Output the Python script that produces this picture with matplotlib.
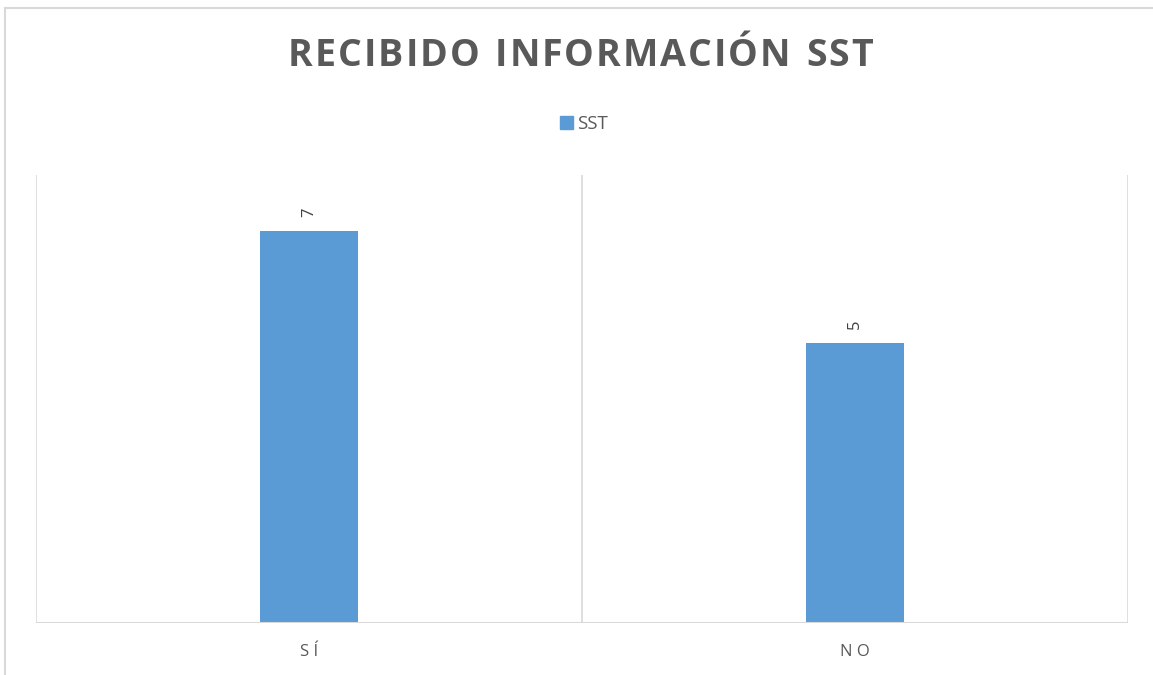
import matplotlib
matplotlib.use("Agg")
import matplotlib.pyplot as plt
from matplotlib.lines import Line2D
from matplotlib.patches import Rectangle

categories = ["SÍ", "NO"]
values = [7, 5]
series_name = "SST"
title = "RECIBIDO INFORMACIÓN SST"

BAR = "#5B9BD5"
GRID = "#D9D9D9"
TXT = "#595959"
FONT = ["Open Sans", "DejaVu Sans"]

W, H = 1153, 675
fig = plt.figure(figsize=(W / 100, H / 100), dpi=100)
ax = fig.add_axes([36 / W, 1 - 623 / H, (1128 - 36) / W, (623 - 175) / H])

x = list(range(len(categories)))
ax.bar(x, values, width=0.18, color=BAR, zorder=3)
ax.set_xlim(-0.5, len(categories) - 0.5)
ax.set_ylim(0, 8)
for b in [i - 0.5 for i in range(len(categories) + 1)]:
    ax.axvline(b, color=GRID, lw=1.2, zorder=1)
for s in ax.spines.values():
    s.set_visible(False)
ax.axhline(0, color=GRID, lw=1.5, zorder=4)
ax.set_yticks([])
ax.set_xticks(x)
ax.set_xticklabels([" ".join(c) for c in categories], fontsize=12, color=TXT,
                   family=FONT)
ax.tick_params(axis="x", length=0, pad=15)

for xi, v in zip(x, values):
    ax.annotate(str(v), (xi, v), xytext=(0, 10), textcoords="offset points",
                rotation=90, ha="center", va="bottom", fontsize=12,
                color="#404040", family=FONT)

# legend
leg = fig.legend(handles=[Rectangle((0, 0), 1, 1, color=BAR)], labels=[series_name],
                 loc="center", bbox_to_anchor=(584 / W, 1 - 124 / H), frameon=False,
                 handlelength=0.7, handleheight=0.7, handletextpad=0.25,
                 prop={"family": FONT, "size": 13.5})
for t in leg.get_texts():
    t.set_color(TXT)

# title with letter spacing
renderer = fig.canvas.get_renderer()
TS = 27
x0, x1 = 288 / W, 873 / W
ty = 1 - 56 / H
chars = list(title)
tmp = [fig.text(0, 0, c, fontsize=TS, fontweight="bold", family=FONT) for c in chars]
widths = []
for t in tmp:
    if t.get_text() == " ":
        widths.append(None)
    else:
        widths.append(t.get_window_extent(renderer).width / W)
for t in tmp:
    t.remove()
space_w = 0.010
total = sum(w if w is not None else space_w for w in widths)
gap = (x1 - x0 - total) / (len(chars) - 1)
cx = x0
for c, w in zip(chars, widths):
    ww = w if w is not None else space_w
    if c != " ":
        fig.text(cx, ty, c, fontsize=TS, fontweight="bold", family=FONT,
                 color=TXT, ha="left", va="center")
    cx += ww + gap

# outer frame
fig.add_artist(Line2D([5 / W, 1], [1 - 8 / H, 1 - 8 / H], color=GRID, lw=1.5))
fig.add_artist(Line2D([5 / W, 5 / W], [0, 1 - 8 / H], color=GRID, lw=1.5))

fig.savefig("out.png", dpi=100)
